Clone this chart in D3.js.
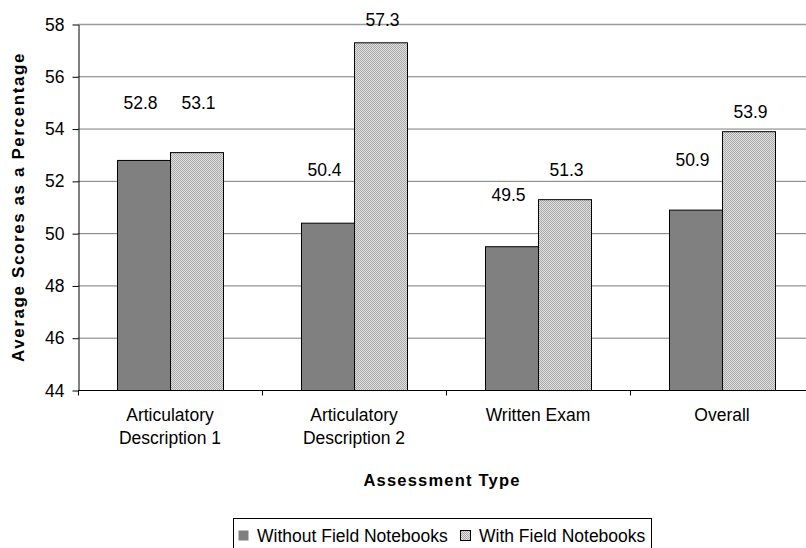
<!DOCTYPE html>
<html>
<head>
<meta charset="utf-8">
<script src="https://cdn.jsdelivr.net/npm/d3@7"></script>
<style>
  body { margin: 0; background: #fff; }
  text { font-family: "Liberation Sans", Arial, sans-serif; fill: #000; }
</style>
</head>
<body>
<div id="chart"></div>
<script>
// data
var categories = ["Articulatory Description 1", "Articulatory Description 2", "Written Exam", "Overall"];
var categoryLines = [["Articulatory", "Description 1"], ["Articulatory", "Description 2"], ["Written Exam"], ["Overall"]];
var seriesNames = ["Without Field Notebooks", "With Field Notebooks"];
var withoutNotebooks = [52.8, 50.4, 49.5, 50.9];
var withNotebooks = [53.1, 57.3, 51.3, 53.9];
var yTicks = [44, 46, 48, 50, 52, 54, 56, 58];

// label lift above bar top in px (labels were hand placed in the original)
var labelLift = [[57, 49], [53, 22], [51, 29], [50, 19]];

var W = 806, H = 548;
var margin = {top: 24, left: 78, bottom: 158};
var plotRight = 814;

var svg = d3.select("#chart").append("svg")
    .attr("width", W)
    .attr("height", H);

var defs = svg.append("defs");
var pat = defs.append("pattern")
    .attr("id", "dots")
    .attr("width", 2).attr("height", 2)
    .attr("patternUnits", "userSpaceOnUse");
pat.append("rect").attr("width", 2).attr("height", 2).attr("fill", "#e2e2e2");
pat.append("rect").attr("x", 0).attr("y", 0).attr("width", 1).attr("height", 1).attr("fill", "#a8a8a8");
pat.append("rect").attr("x", 1).attr("y", 1).attr("width", 1).attr("height", 1).attr("fill", "#a8a8a8");

var y = d3.scaleLinear()
    .domain([44, 58])
    .range([H - margin.bottom, margin.top]);

var x0 = d3.scaleBand()
    .domain(categories)
    .range([margin.left, plotRight]);

var x1 = d3.scaleBand()
    .domain(seriesNames)
    .range([39, x0.bandwidth() - 39]);

var fills = ["#808080", "url(#dots)"];

// gridlines
svg.append("g")
  .selectAll("line")
  .data(yTicks.slice(1))
  .enter().append("line")
    .attr("x1", margin.left)
    .attr("x2", W)
    .attr("y1", function(d) { return y(d) + 0.5; })
    .attr("y2", function(d) { return y(d) + 0.5; })
    .attr("stroke", function(d) { return d === 58 ? "#9a9a9a" : "#7a7a7a"; })
    .attr("stroke-width", function(d) { return d === 58 ? 1.6 : 1; });

// bars
var rows = categories.map(function(c, i) {
  return {cat: c, i: i, vals: [withoutNotebooks[i], withNotebooks[i]]};
});

var groups = svg.append("g")
  .selectAll("g")
  .data(rows)
  .enter().append("g")
    .attr("transform", function(d) { return "translate(" + x0(d.cat) + ",0)"; });

groups.selectAll("rect")
  .data(function(d) { return d.vals.map(function(v, k) { return {v: v, k: k}; }); })
  .enter().append("rect")
    .attr("x", function(d) { return x1(seriesNames[d.k]) + 0.5; })
    .attr("y", function(d) { return y(d.v) + 0.5; })
    .attr("width", x1.bandwidth())
    .attr("height", function(d) { return y(44) - y(d.v); })
    .attr("fill", function(d) { return fills[d.k]; })
    .attr("stroke", "#000")
    .attr("stroke-width", 1);

groups.selectAll("text.val")
  .data(function(d) { return d.vals.map(function(v, k) { return {v: v, k: k, i: d.i}; }); })
  .enter().append("text")
    .attr("class", "val")
    .attr("x", function(d) { return x1(seriesNames[d.k]) + x1.bandwidth() / 2 + (d.k === 0 ? -3 : 2); })
    .attr("y", function(d) { return y(d.v) - labelLift[d.i][d.k] + 6; })
    .attr("text-anchor", "middle")
    .style("font-size", "17.5px")
    .text(function(d) { return d3.format(".1f")(d.v); });

// y axis
var yAxis = svg.append("g")
    .attr("transform", "translate(" + (margin.left + 0.5) + ",0.5)")
    .call(d3.axisLeft(y).tickValues(yTicks).tickSize(6).tickSizeOuter(0).tickPadding(8));
yAxis.select(".domain").attr("stroke", "#000");
yAxis.selectAll(".tick line").attr("stroke", "#000");
yAxis.selectAll(".tick text")
    .style("font-size", "17.5px")
    .style("font-family", "Liberation Sans, Arial, sans-serif")
    .attr("fill", "#000");

// x axis line and category separators
var xBase = y(44) + 0.5;
svg.append("line")
    .attr("x1", margin.left).attr("x2", W)
    .attr("y1", xBase).attr("y2", xBase)
    .attr("stroke", "#000");
svg.append("g")
  .selectAll("line")
  .data(categories)
  .enter().append("line")
    .attr("x1", function(d) { return x0(d) + 0.5; })
    .attr("x2", function(d) { return x0(d) + 0.5; })
    .attr("y1", xBase)
    .attr("y2", xBase + 5)
    .attr("stroke", "#000");

// category labels
var catText = svg.append("g")
  .selectAll("text")
  .data(categories)
  .enter().append("text")
    .attr("x", function(d) { return x0(d) + x0.bandwidth() / 2; })
    .attr("y", xBase + 30)
    .attr("text-anchor", "middle")
    .style("font-size", "17.5px");
catText.selectAll("tspan")
  .data(function(d, i) { return categoryLines[i]; })
  .enter().append("tspan")
    .attr("x", function() { return d3.select(this.parentNode).attr("x"); })
    .attr("dy", function(d, j) { return j === 0 ? 0 : 23; })
    .text(function(d) { return d; });

// axis titles
svg.append("text")
    .attr("x", (margin.left + W) / 2)
    .attr("y", 486)
    .attr("text-anchor", "middle")
    .style("font-size", "16.5px")
    .style("font-weight", "bold")
    .style("letter-spacing", "1.2px")
    .text("Assessment Type");

svg.append("text")
    .attr("transform", "translate(24," + ((margin.top + y(44)) / 2) + ") rotate(-90)")
    .attr("text-anchor", "middle")
    .style("font-size", "17px")
    .style("font-weight", "bold")
    .style("letter-spacing", "1.6px")
    .text("Average Scores as a Percentage");

// legend
var legend = svg.append("g");
legend.append("rect")
    .attr("x", 233.5).attr("y", 518.5)
    .attr("width", 418).attr("height", 50)
    .attr("fill", "#fff")
    .attr("stroke", "#000");
var legX = [238, 460];
seriesNames.forEach(function(s, k) {
  legend.append("rect")
      .attr("x", legX[k] + 0.5).attr("y", 530.5)
      .attr("width", 10).attr("height", 10)
      .attr("fill", fills[k])
      .attr("stroke", k === 0 ? "none" : "#000");
  legend.append("text")
      .attr("x", legX[k] + 19)
      .attr("y", 542)
      .style("font-size", "17.5px")
      .text(s);
});
</script>
</body>
</html>
